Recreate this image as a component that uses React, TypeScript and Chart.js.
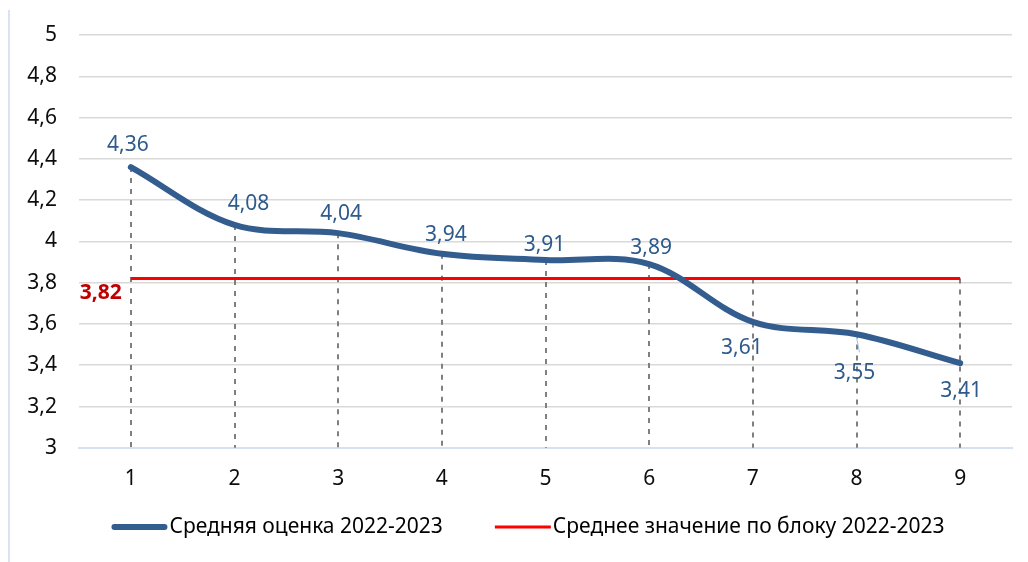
import React, { useEffect, useRef } from 'react';
import { Chart, registerables } from 'chart.js';

Chart.register(...registerables);

const categories = ['1', '2', '3', '4', '5', '6', '7', '8', '9'];
const averageScores = [4.36, 4.08, 4.04, 3.94, 3.91, 3.89, 3.61, 3.55, 3.41];
const blockAverage = [3.82, 3.82, 3.82, 3.82, 3.82, 3.82, 3.82, 3.82, 3.82];
const seriesNames = ['Средняя оценка 2022-2023', 'Среднее значение по блоку 2022-2023'];
const yMin = 3;
const yMax = 5;
const yStep = 0.2;

const FONT = "'Noto Sans', sans-serif";
const FS = 21;
const fmt = (v: number) => String(Math.round(v * 100) / 100).replace('.', ',');

// label offsets (dx, dy) of label centre relative to its point
const labelOffsets = [
  [-3, -22], [14, -21], [3, -19], [4, -19], [-1, -15], [2, -16], [-11, 26], [-2, 39], [1, 28],
];

const dropLinesPlugin = {
  id: 'dropLines',
  beforeDatasetsDraw(chart: any) {
    const { ctx, chartArea } = chart;
    const n = chart.data.labels.length;
    const metas = chart.data.datasets.map((_: any, i: number) => chart.getDatasetMeta(i));
    ctx.save();
    ctx.strokeStyle = '#808080';
    ctx.lineWidth = 2;
    ctx.setLineDash([5, 6]);
    for (let i = 0; i < n; i++) {
      let top = Infinity;
      let x = 0;
      metas.forEach((m: any) => {
        const el = m.data[i];
        if (el) {
          top = Math.min(top, el.y);
          x = el.x;
        }
      });
      ctx.beginPath();
      ctx.moveTo(Math.round(x), top);
      ctx.lineTo(Math.round(x), chartArea.bottom);
      ctx.stroke();
    }
    ctx.restore();
  },
};

const dataLabelsPlugin = {
  id: 'valueLabels',
  afterDatasetsDraw(chart: any) {
    const { ctx } = chart;
    ctx.save();
    ctx.textBaseline = 'middle';
    const m0 = chart.getDatasetMeta(0);
    const d0 = chart.data.datasets[0].data as number[];
    ctx.font = `${FS}px ${FONT}`;
    ctx.fillStyle = '#2E5A8C';
    ctx.textAlign = 'center';
    m0.data.forEach((el: any, i: number) => {
      const [dx, dy] = labelOffsets[i];
      if (i === 7) {
        ctx.save();
        ctx.strokeStyle = '#9DC3E6';
        ctx.lineWidth = 1;
        ctx.beginPath();
        ctx.moveTo(el.x, el.y + 3);
        ctx.lineTo(el.x + 3, el.y + 18);
        ctx.stroke();
        ctx.restore();
      }
      ctx.fillText(fmt(d0[i]), el.x + dx, el.y + dy);
    });
    const m1 = chart.getDatasetMeta(1);
    const d1 = chart.data.datasets[1].data as number[];
    const el = m1.data[0];
    ctx.font = `bold ${FS}px ${FONT}`;
    ctx.fillStyle = '#C00000';
    ctx.textAlign = 'right';
    ctx.fillText(fmt(d1[0]), el.x - 9, el.y + 14);
    ctx.restore();
  },
};

const legendPlugin = {
  id: 'customLegend',
  afterDraw(chart: any) {
    const { ctx } = chart;
    const swatch = 56;
    const gapText = 2;
    const gapItems = 52;
    const centerX = 528;
    const y = 527;
    ctx.save();
    ctx.font = `${FS}px ${FONT}`;
    const items = chart.data.datasets.map((ds: any) => ({
      text: ds.label,
      color: ds.borderColor,
      w: ds.borderWidth,
      cap: ds.borderCapStyle || 'butt',
      tw: ctx.measureText(ds.label).width,
    }));
    const total = items.reduce((s: number, it: any) => s + swatch + gapText + it.tw, 0) + gapItems * (items.length - 1);
    let x = centerX - total / 2;
    items.forEach((it: any) => {
      ctx.strokeStyle = it.color;
      ctx.lineWidth = it.w;
      ctx.lineCap = it.cap;
      ctx.beginPath();
      const inset = it.cap === 'round' ? it.w / 2 : 0;
      ctx.moveTo(x + inset, y);
      ctx.lineTo(x + swatch - inset, y);
      ctx.stroke();
      ctx.fillStyle = '#000';
      ctx.textAlign = 'left';
      ctx.textBaseline = 'middle';
      ctx.fillText(it.text, x + swatch + gapText, y);
      x += swatch + gapText + it.tw + gapItems;
    });
    ctx.restore();
  },
};

export default function App() {
  const canvasRef = useRef<HTMLCanvasElement | null>(null);

  useEffect(() => {
    if (!canvasRef.current) return;
    const chart = new Chart(canvasRef.current, {
      type: 'line',
      data: {
        labels: categories,
        datasets: [
          {
            label: seriesNames[0],
            data: averageScores,
            borderColor: '#335C8F',
            backgroundColor: '#335C8F',
            borderWidth: 6,
            borderCapStyle: 'round',
            borderJoinStyle: 'round',
            pointRadius: 0,
            tension: 0.35,
            order: 1,
          },
          {
            label: seriesNames[1],
            data: blockAverage,
            borderColor: '#FF0000',
            backgroundColor: '#FF0000',
            borderWidth: 3,
            pointRadius: 0,
            tension: 0,
            order: 2,
          },
        ],
      },
      options: {
        responsive: false,
        animation: false,
        layout: { padding: { left: 0, right: 16, top: 35, bottom: 51 } },
        plugins: {
          legend: { display: false },
          tooltip: { enabled: false },
        },
        scales: {
          x: {
            offset: true,
            grid: { display: false, drawTicks: false },
            border: { display: true, color: '#D6E0F0', width: 2 },
            ticks: {
              color: '#0D0D0D',
              font: { family: FONT, size: FS },
              padding: 19,
              maxRotation: 0,
            },
          },
          y: {
            min: yMin,
            max: yMax,
            afterFit(scale: any) {
              scale.width = 79;
            },
            grid: { color: '#D9D9D9', lineWidth: 1.5, drawTicks: false },
            border: { display: false },
            ticks: {
              stepSize: yStep,
              color: '#0D0D0D',
              font: { family: FONT, size: FS },
              padding: 22,
              callback: (v: any) => fmt(Number(v)),
            },
          },
        },
      },
      plugins: [dropLinesPlugin, dataLabelsPlugin, legendPlugin],
    } as any);
    return () => chart.destroy();
  }, []);

  return (
    <div style={{ position: 'absolute', left: 0, top: 0, width: 1028, height: 562, background: '#fff' }}>
      <canvas ref={canvasRef} width={1028} height={562} style={{ display: 'block' }} />
      <div
        style={{
          position: 'absolute',
          left: 8,
          top: 10,
          width: 0,
          height: 552,
          borderLeft: '2px solid #DAE3F3',
        }}
      />
    </div>
  );
}
